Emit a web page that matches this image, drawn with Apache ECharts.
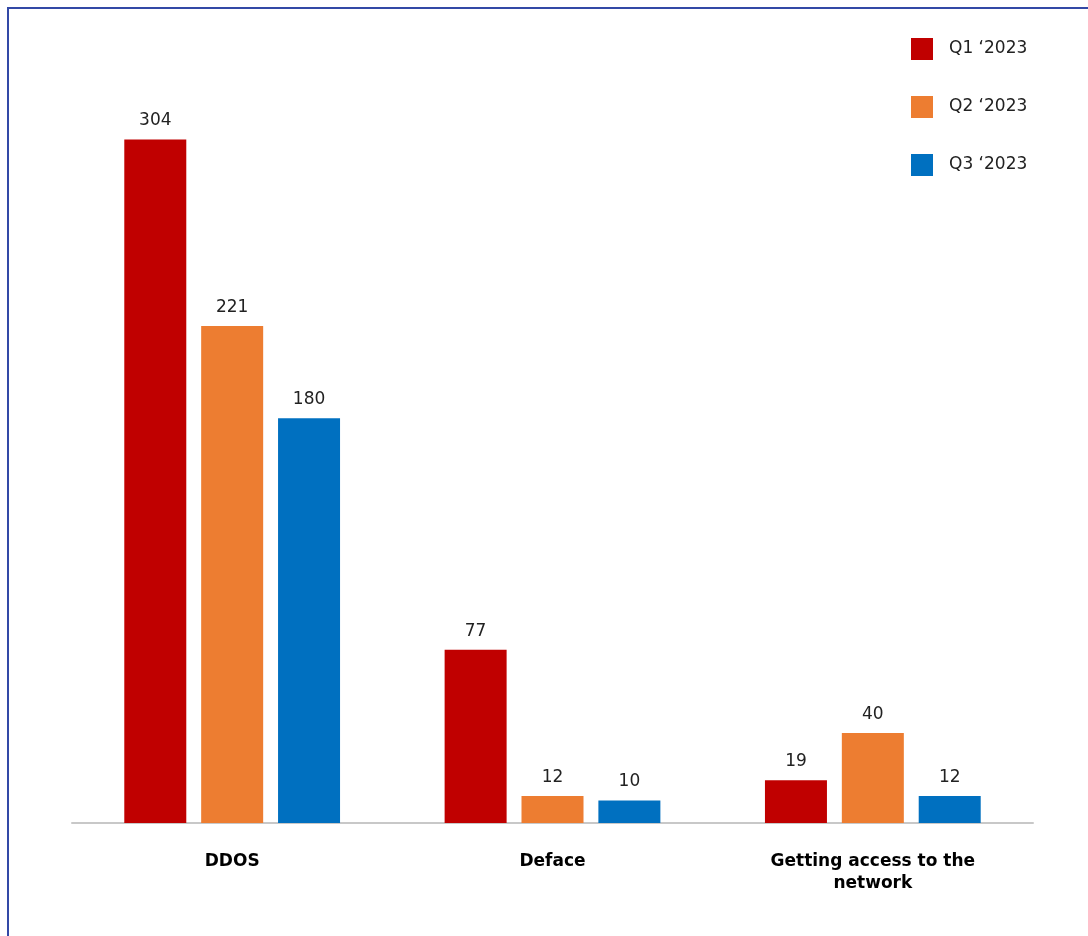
<!DOCTYPE html>
<html><head><meta charset="utf-8">
<script src="https://cdn.jsdelivr.net/npm/echarts@6/dist/echarts.min.js"></script>
<style>
html,body{margin:0;padding:0;background:#fff;}
#frame{position:absolute;left:7px;top:7px;width:1081px;height:929px;border-left:2px solid #3349a6;border-top:2px solid #3349a6;box-sizing:border-box;}
#c{position:absolute;left:0;top:0;width:1088px;height:936px;}
</style></head>
<body>
<div id="frame"></div>
<div id="c"></div>
<script>
const categories = ['DDOS', 'Deface', 'Getting access to the\nnetwork'];
const seriesNames = ["Q1 \u20182023", "Q2 \u20182023", "Q3 \u20182023"];
const q1 = [304, 77, 19];
const q2 = [221, 12, 40];
const q3 = [180, 10, 12];
const colors = ['#c00000', '#ed7d31', '#0070c0'];
const font = "'DejaVu Sans', 'Noto Sans', sans-serif";

const chart = echarts.init(document.getElementById('c'));
const data = [q1, q2, q3];
chart.setOption({
  animation: false,
  textStyle: {fontFamily: font},
  legend: {
    orient: 'vertical', left: 906, top: 33,
    itemWidth: 22, itemHeight: 22, itemGap: 36,
    icon: 'rect',
    textStyle: {fontSize: 17, color: '#222', fontFamily: font, padding: [0, 0, 0, 11]},
    data: seriesNames
  },
  grid: {left: 72, right: 55, top: 36, bottom: 113},
  xAxis: {
    type: 'category', data: categories,
    axisLine: {lineStyle: {color: '#c8c8c8', width: 2}},
    axisTick: {show: false},
    axisLabel: {fontSize: 17, fontWeight: 'bold', color: '#000', margin: 28, lineHeight: 22, fontFamily: font}
  },
  yAxis: {type: 'value', min: 0, max: 350, show: false, splitLine: {show: false}},
  series: seriesNames.map((n, i) => ({
    name: n, type: 'bar', data: data[i], barWidth: 62, barGap: '24%',
    itemStyle: {color: colors[i]},
    label: {show: true, position: 'top', distance: 10, fontSize: 17, color: '#222', fontFamily: font}
  }))
});
</script>
</body></html>
